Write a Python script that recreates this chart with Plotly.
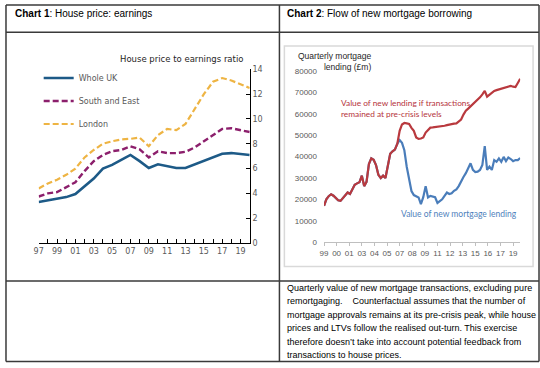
import plotly.graph_objects as go
import pandas as pd

W, H = 540, 368

# ---------------- Chart 1 data ----------------
years = list(range(1997, 2021))
whole_uk = [3.3, 3.45, 3.55, 3.7, 3.95, 4.6, 5.2, 6.0, 6.3, 6.7, 7.1, 6.6, 6.05, 6.35, 6.2, 6.05,
            6.05, 6.35, 6.65, 6.95, 7.2, 7.25, 7.15, 7.1]
south_east = [3.75, 4.0, 4.1, 4.5, 4.9, 5.8, 6.6, 7.1, 7.4, 7.5, 7.8, 7.55, 6.9, 7.4, 7.25, 7.25,
              7.35, 7.7, 8.2, 8.7, 9.2, 9.25, 9.1, 8.95]
london = [4.4, 4.8, 5.1, 5.5, 6.0, 6.9, 7.5, 8.0, 8.2, 8.35, 8.4, 8.5, 7.8, 8.7, 9.2, 9.1,
          9.6, 10.8, 12.0, 13.0, 13.3, 13.1, 12.8, 12.5]
c1_tickvals = list(range(1997, 2021, 2))
c1_ticktext = ["97", "99", "01", "03", "05", "07", "09", "11", "13", "15", "17", "19"]

# ---------------- Chart 2 data (quarterly, 1999Q1-2019Q4) ----------------
quarters = pd.date_range("1999-01-01", periods=84, freq="QS")
counterfactual = [17000, 20000, 21500, 22400, 21700, 20600, 19600, 19300, 20500, 21800,
                  23200, 22500, 24700, 26800, 27500, 28000, 31100, 26200, 28200, 36500,
                  39200, 38500, 36100, 31500, 30000, 31100, 30000, 36000, 41400, 42500,
                  43300, 46000, 52100, 55100, 55800, 55600, 55300, 53500, 52100, 49000,
                  48300, 48500, 49000, 51300, 52500, 53600, 53700, 53800, 53900, 54100,
                  54300, 54500, 54800, 55100, 55300, 55500, 55600, 56500, 57400, 59700,
                  61500, 62500, 63500, 64800, 65500, 66600, 67800, 69200, 70800, 68100,
                  69000, 69900, 70800, 71200, 71500, 71900, 72300, 72600, 73000, 73200,
                  72800, 72600, 74500, 76500]
actual = counterfactual[:32] + [47800, 46500, 43000, 35300, 29200, 23900, 22000, 21600,
                                20900, 17800, 21000, 26200, 20900, 21600, 21200, 21000,
                                18300, 19200, 20000, 21600, 23200, 22500, 22800, 24000,
                                24700, 26200, 28500, 30500, 32300, 34500, 36900, 33800,
                                32800, 33000, 33800, 36100, 44900, 33800, 35300, 33800,
                                38400, 37600, 39200, 37600, 39900, 37900, 39600, 38900,
                                37900, 38400, 38400, 39400]
c2_tickvals = ["1999-01-01", "2000-05-01", "2001-09-01", "2003-01-01", "2004-05-01",
               "2005-09-01", "2007-01-01", "2008-05-01", "2009-09-01", "2011-01-01",
               "2012-05-01", "2013-09-01", "2015-01-01", "2016-05-01", "2017-09-01",
               "2019-01-01"]
c2_ticktext = ["99", "00", "01", "03", "04", "05", "07", "08", "09", "11", "12", "13",
               "15", "16", "17", "19"]

note_lines = [
    "Quarterly value of new mortgage transactions, excluding pure",
    "remortgaging.    Counterfactual assumes that the number of",
    "mortgage approvals remains at its pre-crisis peak, while house",
    "prices and LTVs follow the realised out-turn. This exercise",
    "therefore doesn\u2019t take into account potential feedback from",
    "transactions to house prices.",
]


def px(x):
    return x / W


def py(y):
    return 1 - y / H


GREY = "#595959"
fig = go.Figure()

# Chart 1 traces
fig.add_trace(go.Scatter(x=years, y=whole_uk, name="Whole UK", mode="lines",
                         line=dict(color="#1d5a87", width=2.6), legendgroup="a",
                         xaxis="x", yaxis="y"))
fig.add_trace(go.Scatter(x=years, y=south_east, name="South and East", mode="lines",
                         line=dict(color="#8c1f6c", width=2.4, dash="6px,3px"), legendgroup="b",
                         xaxis="x", yaxis="y"))
fig.add_trace(go.Scatter(x=years, y=london, name="London", mode="lines",
                         line=dict(color="#eeb443", width=2.2, dash="6px,3px"), legendgroup="c",
                         xaxis="x", yaxis="y"))

# Chart 2 traces
fig.add_trace(go.Scatter(x=quarters, y=actual, mode="lines", showlegend=False,
                         line=dict(color="#4a7dba", width=2.2), xaxis="x2", yaxis="y2"))
fig.add_trace(go.Scatter(x=quarters, y=counterfactual, mode="lines", showlegend=False,
                         line=dict(color="#b9393e", width=2.2), xaxis="x2", yaxis="y2"))

fig.update_layout(
    width=W, height=H, margin=dict(l=0, r=0, t=0, b=0),
    paper_bgcolor="white", plot_bgcolor="rgba(0,0,0,0)",
    font=dict(family="Liberation Sans, Arial", color=GREY),
    xaxis=dict(domain=[px(34), px(247)], range=[1997, 2020], showgrid=False, zeroline=False,
               showline=True, linecolor="#000000", linewidth=1.2, ticks="inside", ticklen=4,
               tickcolor="#000000", tickvals=years,
               ticktext=[c1_ticktext[c1_tickvals.index(y)] if y in c1_tickvals else "" for y in years],
               tickfont=dict(family="DejaVu Sans", size=8, color=GREY), anchor="y", fixedrange=True),
    yaxis=dict(domain=[py(245), py(67)], range=[0, 14], side="right", anchor="x",
               showgrid=False, zeroline=False, showline=True, linecolor="#000000", linewidth=1.2,
               ticks="inside", ticklen=4, tickcolor="#000000", dtick=2,
               tickfont=dict(family="DejaVu Sans", size=8, color=GREY)),
    xaxis2=dict(domain=[px(322), px(520)], type="date", range=["1999-01-01", "2019-10-01"],
                showgrid=False, zeroline=False, showline=True, linecolor="#bfbfbf", linewidth=1,
                ticks="outside", ticklen=3, tickcolor="#bfbfbf", tickvals=c2_tickvals,
                ticktext=c2_ticktext, tickfont=dict(size=8, color=GREY), anchor="y2"),
    yaxis2=dict(domain=[py(244), py(69)], range=[0, 80000], showgrid=False, zeroline=False,
                showline=False, dtick=10000, tickformat="d", ticks="",
                tickfont=dict(size=8, color=GREY), anchor="x2", ticklabelstandoff=6),
    legend=dict(x=px(34), y=py(61), xanchor="left", yanchor="top", bgcolor="rgba(0,0,0,0)",
                font=dict(family="DejaVu Sans", size=8, color=GREY), itemwidth=30,
                tracegroupgap=4),
)

ann = []
# Headers
ann.append(dict(text="<b>Chart 1</b>: House price: earnings", x=px(8), y=py(10), xanchor="left",
                yanchor="middle", font=dict(size=10, color="#000000")))
ann.append(dict(text="<b>Chart 2</b>: Flow of new mortgage borrowing", x=px(283), y=py(10),
                xanchor="left", yanchor="middle", font=dict(size=10, color="#000000")))
# Chart 1 title
ann.append(dict(text="House price to earnings ratio", x=px(242), y=py(56), xanchor="right",
                yanchor="middle", font=dict(family="DejaVu Sans", size=8.5, color="#262626")))
# Chart 2 axis title
ann.append(dict(text="Quarterly mortgage<br>lending (\u00a3m)", x=px(371), y=py(59), xanchor="right",
                yanchor="middle", align="right", font=dict(size=8.5, color="#262626")))
# Chart 2 series labels
ann.append(dict(text="Value of new lending if transactions<br>remained at pre-crisis levels",
                x=px(337), y=py(107), xanchor="left", yanchor="middle", align="left",
                font=dict(family="Lato", size=8.3, color="#b5343c")))
ann.append(dict(text="Value of new mortgage lending", x=px(398), y=py(215), xanchor="left",
                yanchor="middle", font=dict(family="Lato", size=8.5, color="#4f7fbc")))
# Note text
for i, line in enumerate(note_lines):
    ann.append(dict(text=line, x=px(283), y=py(291 + i * 13.8), xanchor="left", yanchor="middle",
                    font=dict(size=9, color="#000000")))
for a in ann:
    a.update(xref="paper", yref="paper", showarrow=False)
fig.update_layout(annotations=ann)

shapes = []
LINE = dict(color="#3a3a3a", width=1.5)
# Table borders
for (x0, y0, x1, y1) in [(1, 1, 539, 1), (1, 29, 539, 29), (1, 284, 539, 284), (1, 366.5, 539, 366.5),
                         (1, 1, 1, 366.5), (539, 1, 539, 366.5), (277, 1, 277, 366.5)]:
    shapes.append(dict(type="line", xref="paper", yref="paper", x0=px(x0), y0=py(y0),
                       x1=px(x1), y1=py(y1), line=LINE))
# Chart 2 picture frame
shapes.append(dict(type="rect", xref="paper", yref="paper", x0=px(282), y0=py(269), x1=px(533),
                   y1=py(43), line=dict(color="#d9d9d9", width=1.5)))
fig.update_layout(shapes=shapes)

fig.write_html("out.html", config={"displayModeBar": False},
               post_script="document.body.style.margin='0';")
